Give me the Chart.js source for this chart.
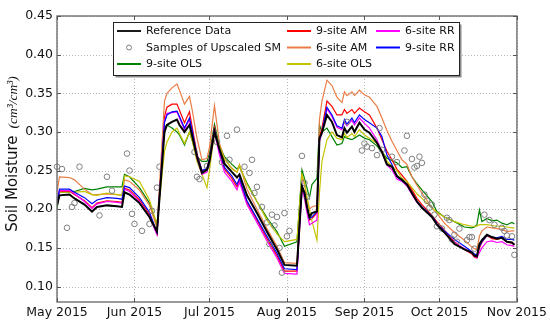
<!DOCTYPE html>
<html><head><meta charset="utf-8">
<script src="https://cdn.jsdelivr.net/npm/chart.js@4/dist/chart.umd.min.js"></script>
<style>html,body{margin:0;padding:0;background:#fff}#wrap{width:550px;height:322px;position:relative}</style>
</head><body><div id="wrap"><canvas id="c" width="550" height="322"></canvas></div>
<script>
// Day index counted from 1 May 2015
const DAYS = [0,1,5,7,11,14,16,20,24,26,27,29,33,37,40,43,44,46,48,49,51,53,54,56,58,60,61,63,65,67,70,72,73,76,80,84,88,91,96,98,99,100,101,102,104,105,106,108,110,112,114,115,116,118,119,121,123,125,128,130,132,134,136,138,140,142,144,146,150,152,155,159,163,166,167,168,169,170,172,174,176,178,180,182,183];
const REFERENCE = [0.205,0.218,0.219,0.214,0.206, 0.197,0.203,0.205,0.204,0.203, 0.222,0.219,0.208,0.190,0.171, 0.300,0.309,0.313,0.316,0.309, 0.300,0.309,0.296,0.268,0.247, 0.251,0.262,0.300,0.278,0.259, 0.248,0.241,0.245,0.218,0.195, 0.171,0.148,0.128,0.127,0.229, 0.222,0.203,0.190,0.195,0.197, 0.292,0.299,0.322,0.313,0.296, 0.293,0.305,0.299,0.307,0.300, 0.312,0.303,0.299,0.286,0.274, 0.258,0.255,0.243,0.238,0.232, 0.221,0.210,0.202,0.190,0.180, 0.170,0.155,0.148,0.144,0.140, 0.139,0.155,0.160,0.167,0.164, 0.162,0.163,0.158,0.157,0.154];
const NINE_OLS = [0.200,0.222,0.222,0.223,0.227, 0.225,0.226,0.229,0.229,0.229, 0.245,0.242,0.228,0.208,0.178, 0.305,0.309,0.305,0.300,0.296, 0.283,0.300,0.290,0.268,0.262, 0.262,0.272,0.310,0.282,0.268, 0.258,0.252,0.255,0.234,0.210, 0.189,0.171,0.152,0.158,0.251, 0.240,0.228,0.215,0.232,0.240, 0.309,0.300,0.305,0.294,0.283, 0.285,0.294,0.292,0.290,0.292, 0.296,0.292,0.290,0.282,0.274, 0.266,0.263,0.260,0.254,0.255, 0.242,0.233,0.225,0.210,0.197, 0.190,0.184,0.177,0.176,0.177, 0.180,0.199,0.184,0.188,0.185, 0.186,0.182,0.180,0.183,0.181];
const NINE_AM = [0.206,0.223,0.223,0.219,0.211, 0.202,0.208,0.211,0.210,0.209, 0.227,0.225,0.212,0.193,0.168, 0.320,0.332,0.336,0.336,0.328, 0.312,0.326,0.308,0.272,0.250, 0.252,0.266,0.306,0.274,0.252, 0.240,0.229,0.238,0.209,0.186, 0.162,0.140,0.120,0.120,0.232, 0.219,0.203,0.186,0.188,0.195, 0.294,0.305,0.340,0.333,0.322, 0.322,0.329,0.324,0.329,0.324, 0.331,0.326,0.322,0.305,0.290, 0.275,0.264,0.252,0.244,0.236, 0.225,0.214,0.206,0.192,0.184, 0.173,0.158,0.148,0.142,0.138, 0.137,0.150,0.157,0.166,0.162, 0.161,0.163,0.158,0.156,0.154];
const SIX_AM = [0.222,0.242,0.241,0.238,0.226, 0.219,0.219,0.220,0.219,0.218, 0.238,0.236,0.225,0.205,0.176, 0.340,0.350,0.357,0.362,0.354, 0.336,0.346,0.330,0.292,0.264, 0.266,0.280,0.334,0.285,0.265, 0.253,0.248,0.258,0.226,0.200, 0.175,0.152,0.131,0.130,0.242, 0.232,0.215,0.200,0.203,0.205, 0.316,0.340,0.367,0.360,0.345, 0.338,0.352,0.347,0.352,0.347, 0.354,0.348,0.345,0.333,0.318, 0.302,0.288,0.276,0.264,0.258, 0.242,0.231,0.221,0.202,0.195, 0.182,0.170,0.160,0.151,0.149, 0.148,0.165,0.172,0.177,0.176, 0.175,0.174,0.171,0.172,0.172];
const SIX_OLS = [0.205,0.222,0.222,0.222,0.223, 0.219,0.218,0.221,0.219,0.218, 0.243,0.242,0.236,0.212,0.180, 0.275,0.287,0.300,0.305,0.298, 0.285,0.300,0.290,0.262,0.245, 0.228,0.250,0.300,0.282,0.265, 0.252,0.248,0.257,0.232,0.210, 0.186,0.168,0.158,0.161,0.245, 0.235,0.215,0.200,0.185,0.160, 0.221,0.262,0.290,0.300,0.292, 0.290,0.298,0.293,0.298,0.294, 0.303,0.296,0.292,0.285,0.276, 0.262,0.256,0.250,0.240,0.236, 0.228,0.220,0.214,0.202,0.196, 0.190,0.184,0.180,0.178,0.178, 0.178,0.180,0.180,0.180,0.179, 0.178,0.178,0.177,0.176,0.176];
const SIX_RR = [0.206,0.224,0.224,0.220,0.210, 0.201,0.207,0.210,0.209,0.208, 0.226,0.223,0.210,0.190,0.167, 0.314,0.324,0.325,0.326,0.318, 0.303,0.316,0.300,0.266,0.245, 0.248,0.262,0.300,0.270,0.248, 0.236,0.225,0.235,0.206,0.183, 0.159,0.137,0.117,0.116,0.226, 0.214,0.196,0.180,0.182,0.186, 0.288,0.298,0.330,0.320,0.306, 0.303,0.314,0.308,0.315,0.309, 0.318,0.311,0.305,0.290,0.274, 0.257,0.251,0.239,0.236,0.230, 0.219,0.209,0.202,0.190,0.180, 0.170,0.157,0.149,0.143,0.139, 0.137,0.144,0.150,0.158,0.159, 0.157,0.158,0.154,0.153,0.152];
const NINE_RR = [0.208,0.226,0.226,0.222,0.215, 0.207,0.212,0.215,0.214,0.213, 0.230,0.228,0.215,0.196,0.170, 0.312,0.322,0.326,0.327,0.320, 0.305,0.318,0.303,0.270,0.250, 0.253,0.265,0.303,0.276,0.254, 0.243,0.232,0.240,0.211,0.188, 0.165,0.143,0.123,0.122,0.232, 0.220,0.205,0.188,0.190,0.197, 0.290,0.300,0.332,0.322,0.308, 0.305,0.316,0.310,0.318,0.312, 0.322,0.316,0.312,0.305,0.294, 0.270,0.258,0.242,0.237,0.232, 0.221,0.210,0.203,0.191,0.182, 0.172,0.161,0.152,0.145,0.142, 0.141,0.152,0.158,0.166,0.164, 0.163,0.165,0.161,0.161,0.160];
const SAMPLE_DAYS = [0,2,4,6,7,9,17,20,22,28, 29,30,31,34,37,38,40,41,55,56, 57,60,64,66,68,69,72,75,77,78, 79,80,82,84,85,86,87,88,89,90, 91,92,93,98,99,100,116,122,123,124, 126,128,129,130,134,136,139,140,142,143, 144,145,146,147,148,149,150,151,152,154, 156,157,158,159,160,161,164,165,166,167, 171,173,175,178,179,180,182,183];
const SAMPLE_SM = [0.255,0.252,0.176,0.203,0.208,0.255,0.192,0.242,0.224,0.272, 0.250,0.194,0.181,0.172,0.181,0.198,0.228,0.255,0.274,0.242, 0.239,0.256,0.287,0.261,0.295,0.264,0.303,0.255,0.247,0.264, 0.221,0.229,0.203,0.183,0.155,0.193,0.179,0.190,0.150,0.118, 0.195,0.165,0.172,0.269,0.234,0.216,0.313,0.276,0.285,0.281, 0.279,0.270,0.305,0.277,0.268,0.261,0.276,0.295,0.265,0.254, 0.256,0.268,0.260,0.219,0.211,0.202,0.206,0.193,0.178,0.175, 0.189,0.186,0.161,0.167,0.158,0.175,0.160,0.164,0.164,0.149, 0.193,0.186,0.180,0.176,0.172,0.166,0.165,0.141];
const MONTH_TICKS = [0,31,61,92,123,153,184];
const MONTH_LABELS = ['May 2015','Jun 2015','Jul 2015','Aug 2015','Sep 2015','Oct 2015','Nov 2015'];
const Y_TICKS = [0.10,0.15,0.20,0.25,0.30,0.35,0.40,0.45];

const FONT = 'DejaVu Sans';
const pts = (vals) => DAYS.map((d,i)=>({x:d,y:vals[i]}));
const line = (label, vals, color, width, order) => ({label, data:pts(vals), borderColor:color, backgroundColor:color, borderWidth:width, pointRadius:0, tension:0, fill:false, order});

const datasets = [
  line('Reference Data', REFERENCE, '#000000', 2, 0),
  {label:'Samples of Upscaled SM', data:SAMPLE_DAYS.map((d,i)=>({x:d,y:SAMPLE_SM[i]})), showLine:false, pointRadius:2.8, pointHoverRadius:2.8, pointStyle:'circle', borderColor:'#7f7f7f', backgroundColor:'rgba(0,0,0,0)', pointBorderWidth:1, borderWidth:1, order:1, clip:false},
  line('9-site OLS', NINE_OLS, '#008000', 1.2, 7),
  line('9-site AM', NINE_AM, '#ff0000', 1.2, 6),
  line('6-site AM', SIX_AM, '#ea7d45', 1.2, 5),
  line('6-site OLS', SIX_OLS, '#c4c400', 1.2, 4),
  line('6-site RR', SIX_RR, '#ff00ff', 1.2, 3),
  line('9-site RR', NINE_RR, '#0000ff', 1.2, 2)
];

const deco = {
  id:'deco',
  beforeDatasetsDraw(chart){
    const {ctx, chartArea:a, scales:{x,y}} = chart;
    ctx.save();
    ctx.strokeStyle='#b5b5b5'; ctx.lineWidth=1; ctx.setLineDash([1,2]);
    MONTH_TICKS.forEach(v=>{const px=Math.round(x.getPixelForValue(v))+0.5; ctx.beginPath(); ctx.moveTo(px,a.top); ctx.lineTo(px,a.bottom); ctx.stroke();});
    Y_TICKS.forEach(v=>{const py=Math.round(y.getPixelForValue(v))+0.5; ctx.beginPath(); ctx.moveTo(a.left,py); ctx.lineTo(a.right,py); ctx.stroke();});
    ctx.restore();
  },
  afterDatasetsDraw(chart){
    const {ctx, chartArea:a, scales:{x,y}} = chart;
    ctx.save();
    ctx.strokeStyle='#6e6e6e'; ctx.lineWidth=1.4; ctx.setLineDash([]);
    ctx.strokeRect(a.left, a.top, a.right-a.left, a.bottom-a.top);
    ctx.lineWidth=1; ctx.strokeStyle='#555';
    MONTH_TICKS.forEach(v=>{const px=Math.round(x.getPixelForValue(v))+0.5; ctx.beginPath(); ctx.moveTo(px,a.bottom); ctx.lineTo(px,a.bottom-4); ctx.moveTo(px,a.top); ctx.lineTo(px,a.top+4); ctx.stroke();});
    Y_TICKS.forEach(v=>{const py=Math.round(y.getPixelForValue(v))+0.5; ctx.beginPath(); ctx.moveTo(a.left,py); ctx.lineTo(a.left+4,py); ctx.moveTo(a.right,py); ctx.lineTo(a.right-4,py); ctx.stroke();});
    ctx.restore();
  },
  afterDraw(chart){
    const ctx = chart.ctx;
    ctx.save();
    // legend
    const bx=113.5, by=22.5, bw=346, bh=53;
    ctx.fillStyle='#8c8c8c'; ctx.fillRect(bx+2, by+2, bw, bh);
    ctx.fillStyle='#ffffff'; ctx.fillRect(bx, by, bw, bh);
    ctx.strokeStyle='#222'; ctx.lineWidth=1; ctx.strokeRect(bx, by, bw, bh);
    const colX=[117,287,376], rowY=[31,47.5,64];
    ctx.font='11px "'+FONT+'"'; ctx.textBaseline='middle'; ctx.textAlign='left';
    chart.data.datasets.forEach((ds,i)=>{
      const cx=colX[Math.floor(i/3)], cy=rowY[i%3];
      if (ds.showLine===false){
        ctx.beginPath(); ctx.arc(cx+12, cy, 2.5, 0, Math.PI*2); ctx.strokeStyle=ds.borderColor; ctx.lineWidth=1; ctx.stroke();
      } else {
        ctx.beginPath(); ctx.moveTo(cx, cy); ctx.lineTo(cx+24, cy); ctx.strokeStyle=ds.borderColor; ctx.lineWidth=ds.borderWidth===2?1.8:2; ctx.stroke();
      }
      ctx.fillStyle='#111'; ctx.fillText(ds.label, cx+29, cy+0.5);
    });
    // y title
    ctx.translate(13, 154); ctx.rotate(-Math.PI/2);
    const t1='Soil Moisture', t2='(cm\u00b3/cm\u00b3)';
    const f1='15px "'+FONT+'"', f2='italic 13.5px "Liberation Serif"';
    ctx.font=f1; const w1=ctx.measureText(t1).width;
    ctx.font=f2; const w2=ctx.measureText(t2).width;
    const gap=7, start=-(w1+gap+w2)/2;
    ctx.fillStyle='#111'; ctx.textBaseline='middle';
    ctx.font=f1; ctx.fillText(t1, start, 0);
    ctx.font=f2; ctx.fillText(t2, start+w1+gap, 0);
    ctx.restore();
  }
};

new Chart(document.getElementById('c'), {
  type:'line',
  data:{datasets},
  options:{
    responsive:false, animation:false, devicePixelRatio:1,
    layout:{padding:{left:0,right:33,top:16,bottom:0}},
    plugins:{legend:{display:false}, tooltip:{enabled:false}},
    scales:{
      x:{type:'linear', min:0, max:184,
        afterBuildTicks:s=>{s.ticks=MONTH_TICKS.map(v=>({value:v}));},
        afterFit:s=>{s.height=20;},
        grid:{display:false, drawTicks:false}, border:{display:false},
        ticks:{autoSkip:false, maxRotation:0, padding:3, color:'#111', font:{family:FONT,size:12.5},
          callback:v=>MONTH_LABELS[MONTH_TICKS.indexOf(v)]}},
      y:{type:'linear', min:0.08, max:0.45,
        afterBuildTicks:s=>{s.ticks=Y_TICKS.map(v=>({value:v}));},
        afterFit:s=>{s.width=57;},
        grid:{display:false, drawTicks:false}, border:{display:false},
        ticks:{padding:4, color:'#111', font:{family:FONT,size:12.5}, callback:v=>v.toFixed(2)}}
    }
  },
  plugins:[deco]
});
</script></body></html>
